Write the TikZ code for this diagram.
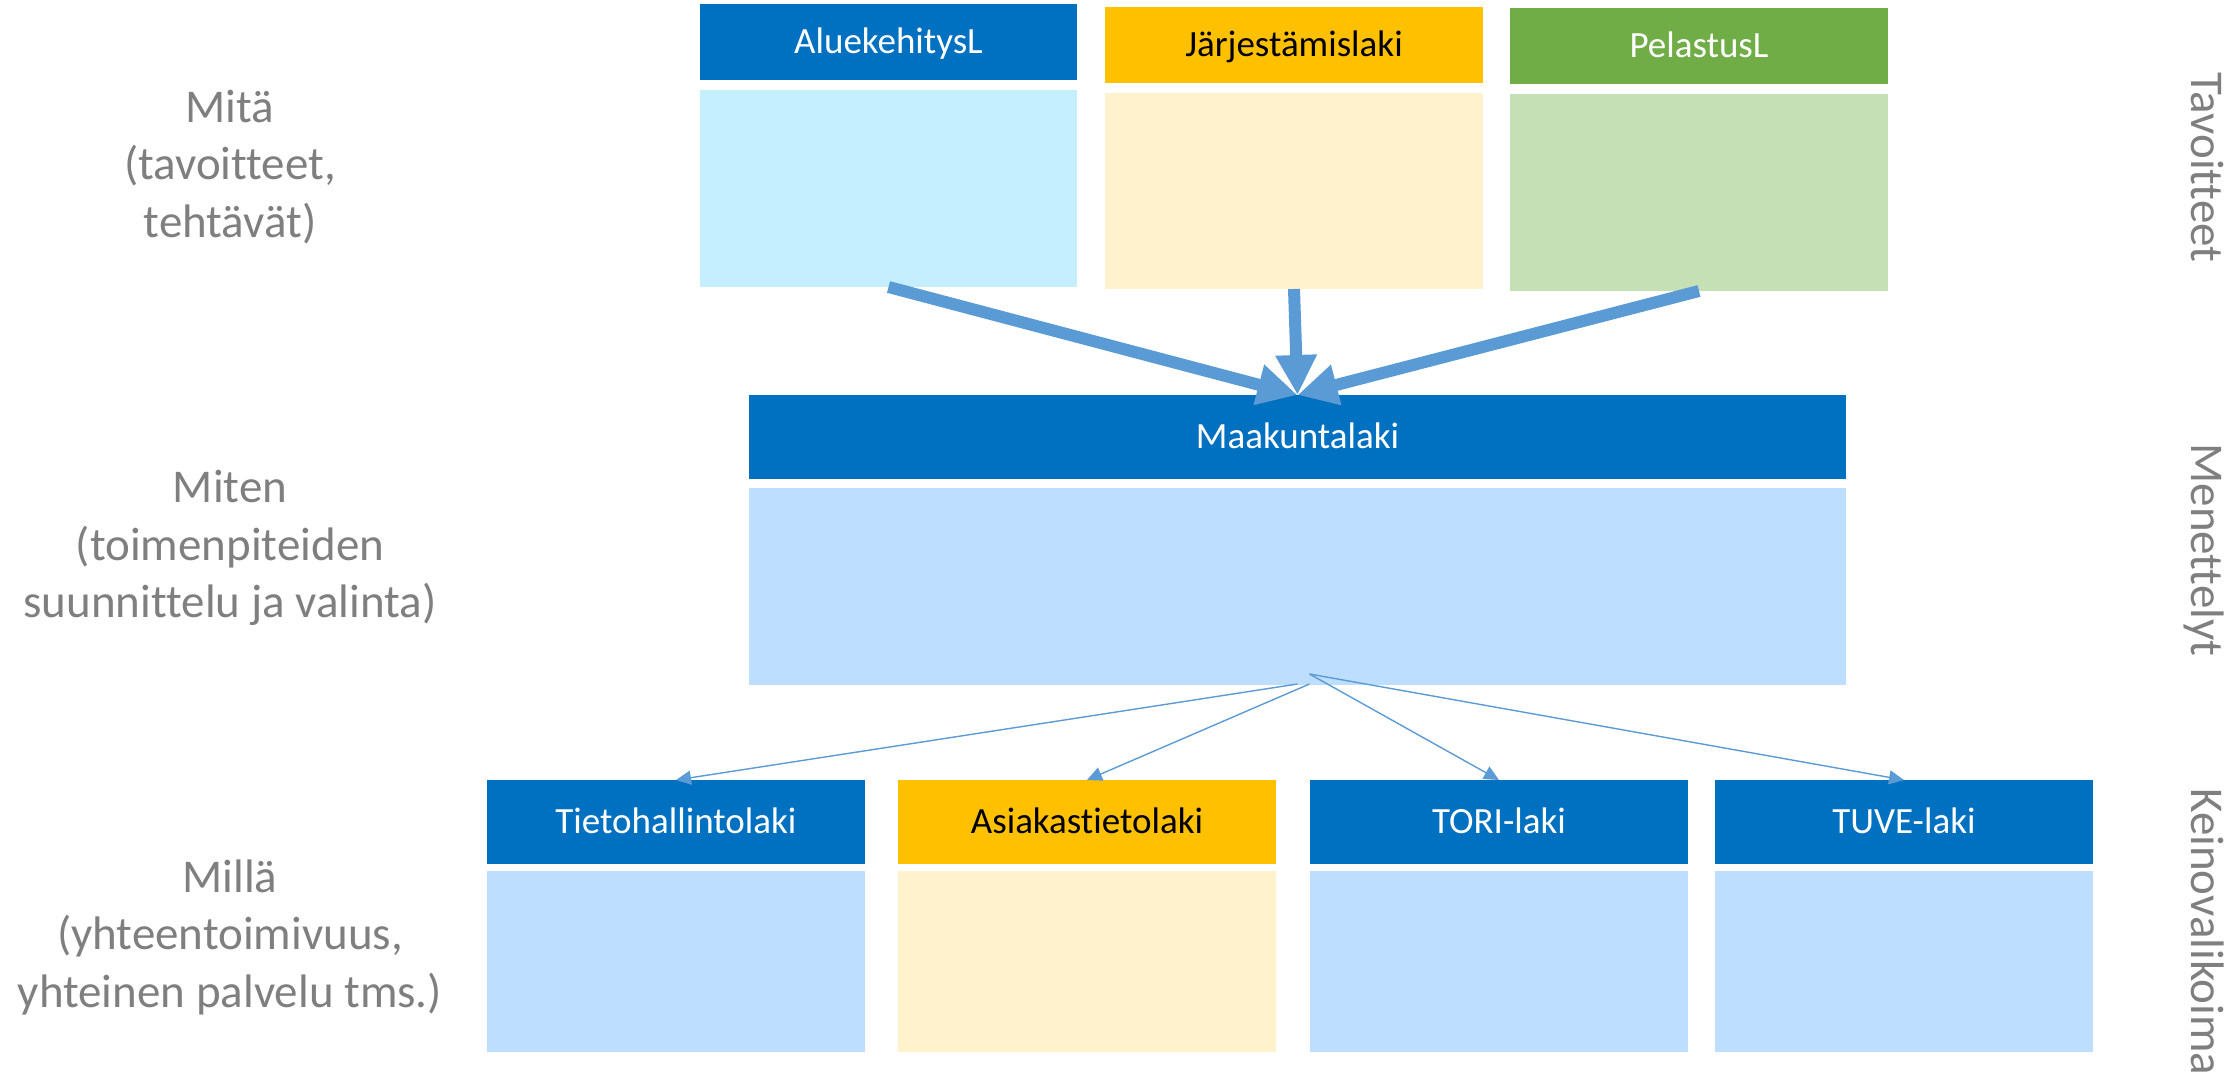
\documentclass[tikz,border=0pt]{standalone}
\usepackage{fontspec}
\setmainfont{Carlito}[Ligatures=NoCommon]
\usetikzlibrary{arrows.meta}
\definecolor{hblue}{HTML}{0070C0}
\definecolor{horange}{HTML}{FFC000}
\definecolor{hgreen}{HTML}{70AD47}
\definecolor{lcyan}{HTML}{C5EFFF}
\definecolor{lyellow}{HTML}{FFF2CC}
\definecolor{lgreen}{HTML}{C5E0B4}
\definecolor{lblue}{HTML}{BDDEFE}
\definecolor{arr}{HTML}{5B9BD5}
\definecolor{gtext}{HTML}{7F7F7F}
\begin{document}
\begin{tikzpicture}[x=0.5pt,y=-0.5pt,
  hdr/.style={inner sep=0pt, outer sep=0pt, anchor=north west,
    font=\fontsize{18.5}{22}\selectfont, text height=11.9pt, text depth=0pt},
  lite/.style={inner sep=0pt, outer sep=0pt, anchor=north west},
  lbl/.style={inner sep=0pt, align=center, text=gtext,
    font=\fontsize{23.5}{28.75}\selectfont},
  side/.style={inner sep=0pt, rotate=-90, text=gtext,
    font=\fontsize{23.5}{28.75}\selectfont, text height=15.1pt, text depth=0pt},
  bigarrow/.style={draw=arr, line width=6pt, -{Triangle[length=20pt,width=19.5pt]}},
  thinarrow/.style={draw=arr, line width=0.7pt, -{Triangle[length=7.5pt,width=7pt]}}
]
\useasboundingbox (0,0) rectangle (2240,1076);

% top row
\node[hdr, fill=hblue, text=white, minimum width=188.5pt, minimum height=38pt] (aH) at (700,4) {AluekehitysL};
\node[lite, fill=lcyan, minimum width=188.5pt, minimum height=98.5pt] (aL) at (700,90) {};
\node[hdr, fill=horange, text=black, minimum width=189pt, minimum height=38pt] (jH) at (1105,7) {Järjestämislaki};
\node[lite, fill=lyellow, minimum width=189pt, minimum height=98pt] (jL) at (1105,93) {};
\node[hdr, fill=hgreen, text=white, minimum width=189pt, minimum height=38pt] (pH) at (1510,8) {PelastusL};
\node[lite, fill=lgreen, minimum width=189pt, minimum height=98.5pt] (pL) at (1510,94) {};

% middle
\node[hdr, fill=hblue, text=white, minimum width=548.5pt, minimum height=42pt] (mH) at (749,395) {Maakuntalaki};
\node[lite, fill=lblue, minimum width=548.5pt, minimum height=98.5pt] (mL) at (749,488) {};

% bottom row
\node[hdr, fill=hblue, text=white, minimum width=189pt, minimum height=42pt] (tH) at (487,780) {Tietohallintolaki};
\node[lite, fill=lblue, minimum width=189pt, minimum height=90.5pt] (tL) at (487,871) {};
\node[hdr, fill=horange, text=black, minimum width=189pt, minimum height=42pt] (asH) at (898,780) {Asiakastietolaki};
\node[lite, fill=lyellow, minimum width=189pt, minimum height=90.5pt] (asL) at (898,871) {};
\node[hdr, fill=hblue, text=white, minimum width=189pt, minimum height=42pt] (toH) at (1310,780) {TORI-laki};
\node[lite, fill=lblue, minimum width=189pt, minimum height=90.5pt] (toL) at (1310,871) {};
\node[hdr, fill=hblue, text=white, minimum width=189pt, minimum height=42pt] (tuH) at (1715,780) {TUVE-laki};
\node[lite, fill=lblue, minimum width=189pt, minimum height=90.5pt] (tuL) at (1715,871) {};

% left labels
\node[lbl] (q1) at (230,167) {Mitä\\(tavoitteet,\\tehtävät)};
\node[lbl] (q2) at (230,548) {Miten\\(toimenpiteiden\\suunnittelu ja valinta)};
\node[lbl] (q3) at (230,937) {Millä\\(yhteentoimivuus,\\yhteinen palvelu tms.)};

% right labels
\node[side] (s1) at (2207,167.5) {Tavoitteet};
\node[side] (s2) at (2207,550) {Menettelyt};
\node[side] (s3) at (2207,932) {Keinovalikoima};

% thick arrows
\draw[bigarrow] (aL.south) -- (mH.north);
\draw[bigarrow] (jL.south) -- (mH.north);
\draw[bigarrow] (pL.south) -- (mH.north);

% thin arrows
\coordinate (o1) at ([yshift=0.5pt]mL.south);
\coordinate (o2) at ([xshift=6pt,yshift=0.5pt]mL.south);
\coordinate (o3) at ([xshift=6pt,yshift=5.5pt]mL.south);
\draw[thinarrow] (o1) -- (tH.north);
\draw[thinarrow] (o2) -- (asH.north);
\draw[thinarrow] (o3) -- (toH.north);
\draw[thinarrow] (o3) -- (tuH.north);
\end{tikzpicture}
\end{document}
